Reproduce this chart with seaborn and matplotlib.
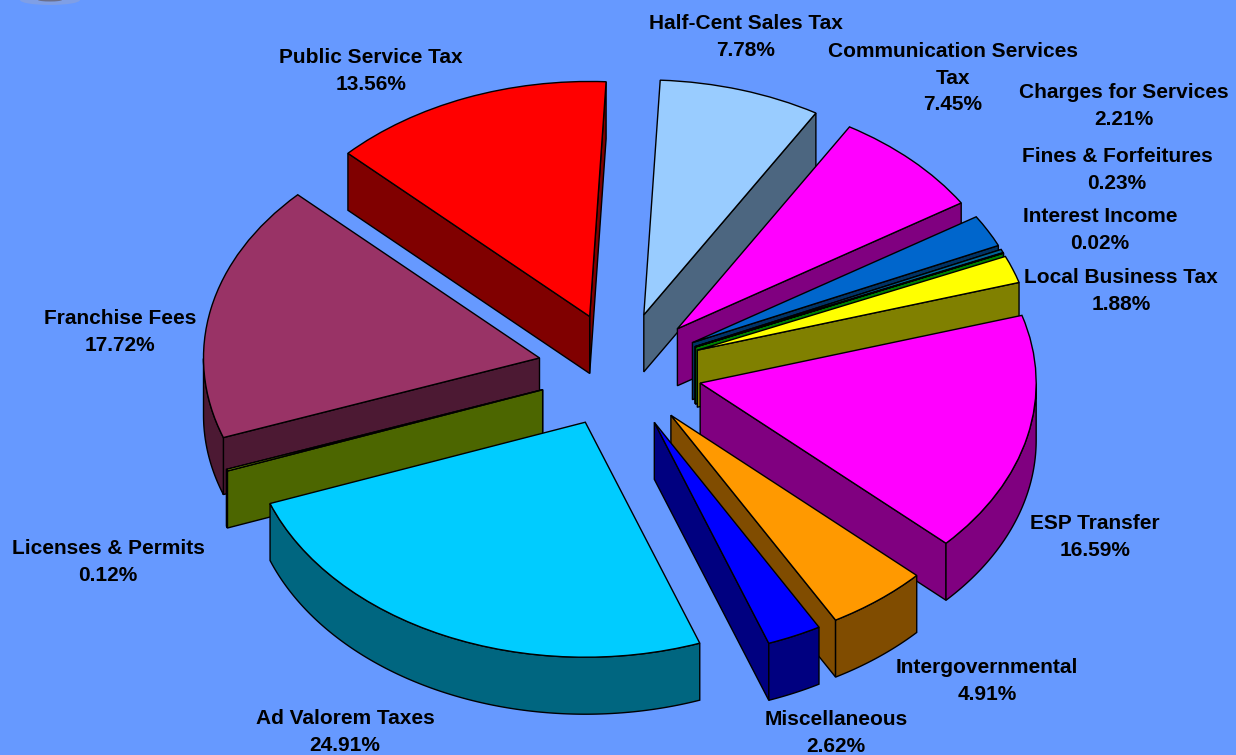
import numpy as np
import matplotlib
matplotlib.use("Agg")
import matplotlib.pyplot as plt
from matplotlib.patches import Ellipse
import seaborn as sns

names = ["Half-Cent Sales Tax", "Communication Services\nTax", "Charges for Services",
         "Fines & Forfeitures", "Interest Income", "Local Business Tax", "ESP Transfer",
         "Intergovernmental", "Miscellaneous", "Ad Valorem Taxes", "Licenses & Permits",
         "Franchise Fees", "Public Service Tax"]
shares = [7.78, 7.45, 2.21, 0.23, 0.02, 1.88, 16.59, 4.91, 2.62, 24.91, 0.12, 17.72, 13.56]
top_colors = ["#99CCFF", "#FF00FF", "#0066CC", "#006699", "#00CC00", "#FFFF00", "#FF00FF",
              "#FF9900", "#0000FF", "#00CCFF", "#99CC00", "#993366", "#FF0000"]
side_colors = ["#4C6680", "#800080", "#003366", "#003350", "#008000", "#808000", "#800080",
               "#804C00", "#000080", "#006680", "#4C6600", "#4C1933", "#800000"]

# label centres in picture pixels, same order as names
label_x = [746, 953, 1124, 1117, 1100, 1121, 1095, 987, 836, 345, 108, 120, 371]
label_y = [37, 78, 106, 170, 230, 291, 537, 681, 733, 732, 562, 332, 71]

W, H = 1236, 755
BG = "#6699FF"
CX, CY = 620, 370   # pie centre
RX, RY = 336, 235   # radius in pixels along x and y
DEPTH = 57 / RY     # wall height in data units

sns.set_theme(style="white")
plt.rcParams["font.family"] = ["Liberation Sans", "DejaVu Sans"]

fig = plt.figure(figsize=(W / 100, H / 100), dpi=100, facecolor=BG)
ax = fig.add_axes([0, 0, 1, 1])

wedges, _ = ax.pie(shares, colors=sns.color_palette(top_colors), startangle=87.2,
                   counterclock=False, explode=[0.245] * len(shares), normalize=True,
                   wedgeprops={"edgecolor": "black", "linewidth": 1})
ax.set_aspect("auto")
ax.set_xlim(-CX / RX, (W - CX) / RX)
ax.set_ylim((CY - H) / RY, CY / RY)
ax.set_facecolor(BG)


def in_wedge(ang, t1, t2):
    return (ang - t1) % 360 <= (t2 - t1) % 360


def draw_walls(w, color, z):
    cx, cy = w.center
    t1, t2 = w.theta1, w.theta2
    opts = dict(facecolor=color, edgecolor="black", linewidth=1, zorder=z)
    # flat cut faces, only the ones that look outward from the viewer
    for t in (t1, t2):
        ex, ey = np.cos(np.radians(t)) * w.r, np.sin(np.radians(t)) * w.r
        probe = np.degrees(np.arctan2(ey / 2 - 0.02, ex / 2))
        if in_wedge(probe, t1, t2):
            continue
        ax.fill([cx, cx + ex, cx + ex, cx],
                [cy, cy + ey, cy + ey - DEPTH, cy - DEPTH], **opts)
    # rim, lower half of the ellipse only
    a = np.linspace(t1, t2, 160)
    a = a[np.sin(np.radians(a)) < 0]
    if len(a) > 1:
        xs = cx + w.r * np.cos(np.radians(a))
        ys = cy + w.r * np.sin(np.radians(a))
        ax.fill(np.r_[xs, xs[::-1]], np.r_[ys, ys[::-1] - DEPTH], **opts)


# paint from the back of the pie to the front
order = sorted(range(len(wedges)), key=lambda i: -wedges[i].center[1])
for rank, i in enumerate(order):
    draw_walls(wedges[i], side_colors[i], 2 * rank + 2)
    wedges[i].set_zorder(2 * rank + 3)

for name, share, x, y in zip(names, shares, label_x, label_y):
    fig.text(x / W, 1 - y / H, f"{name}\n{share:.2f}%", ha="center", va="center",
             ma="center", fontsize=15, fontweight="bold", color="black", linespacing=1.47)

# bit of the logo cut off at the top left corner
for w_px, h_px, col in [(60, 10, "#7F9FE6"), (24, 3, "#6B6F8A")]:
    ax.add_patch(Ellipse(((50 - CX) / RX, CY / RY), w_px / RX, h_px / RY,
                         facecolor=col, edgecolor="none", zorder=1))

fig.savefig("out.png", dpi=100, facecolor=BG)
